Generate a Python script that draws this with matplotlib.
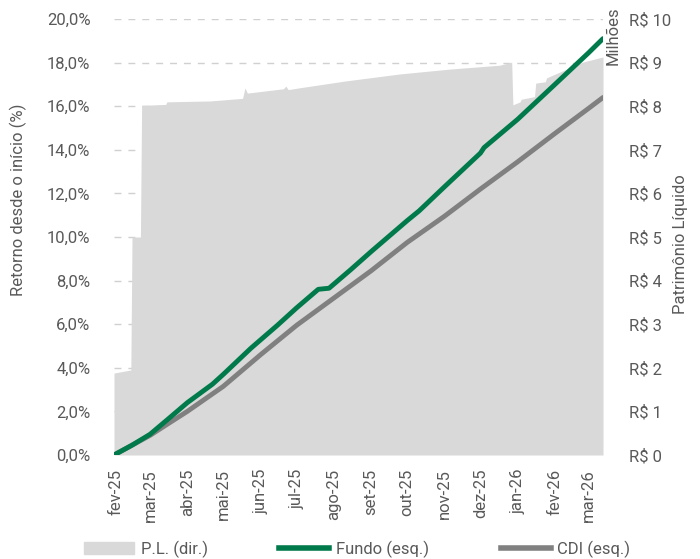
import numpy as np
import pandas as pd
import matplotlib
matplotlib.use("Agg")
import matplotlib.pyplot as plt
from matplotlib.patches import Patch
from matplotlib.lines import Line2D

plt.rcParams['font.family'] = ['Roboto', 'DejaVu Sans']

# Dados
pl_datas = ['2025-01-30', '2025-02-13', '2025-02-14', '2025-02-21', '2025-02-22',
            '2025-03-14', '2025-03-15', '2025-04-20', '2025-05-17', '2025-05-19',
            '2025-05-21', '2025-06-20', '2025-06-22', '2025-06-24', '2025-07-03',
            '2025-08-11', '2025-09-25', '2025-11-05', '2025-12-17', '2025-12-27',
            '2025-12-28', '2026-01-03', '2026-01-04', '2026-01-15', '2026-01-16',
            '2026-01-24', '2026-01-25', '2026-02-24', '2026-03-13']
pl_milhoes = [1.88, 1.95, 5.0, 5.0, 8.02,
              8.04, 8.1, 8.12, 8.18, 8.42,
              8.30, 8.40, 8.46, 8.38, 8.42,
              8.58, 8.74, 8.85, 8.94, 9.01,
              8.03, 8.10, 8.16, 8.22, 8.53,
              8.56, 8.65, 9.01, 9.13]

fundo_datas = ['2025-01-30', '2025-02-14', '2025-03-01', '2025-03-15', '2025-04-01',
               '2025-04-22', '2025-05-01', '2025-05-24', '2025-06-15', '2025-07-01',
               '2025-07-19', '2025-07-28', '2025-08-15', '2025-09-01', '2025-10-01',
               '2025-10-11', '2025-11-01', '2025-12-01', '2025-12-04', '2026-01-01',
               '2026-02-01', '2026-03-01', '2026-03-13']
fundo = [0.0, 0.45, 0.95, 1.6, 2.4,
         3.25, 3.7, 4.9, 5.95, 6.75,
         7.6, 7.65, 8.5, 9.33, 10.75,
         11.2, 12.3, 13.85, 14.1, 15.4,
         17.0, 18.45, 19.1]

cdi_datas = ['2025-01-30', '2025-02-14', '2025-03-01', '2025-03-15', '2025-04-01',
             '2025-05-01', '2025-06-01', '2025-07-01', '2025-08-01', '2025-09-01',
             '2025-10-01', '2025-11-01', '2025-12-01', '2026-01-01', '2026-02-01',
             '2026-03-01', '2026-03-13']
cdi = [0.0, 0.45, 0.9, 1.4, 2.0,
       3.15, 4.6, 5.95, 7.2, 8.45,
       9.75, 10.95, 12.2, 13.45, 14.75,
       15.9, 16.4]

meses = ['fev-25', 'mar-25', 'abr-25', 'mai-25', 'jun-25', 'jul-25', 'ago-25',
         'set-25', 'out-25', 'nov-25', 'dez-25', 'jan-26', 'fev-26', 'mar-26']
meses_datas = pd.date_range('2025-02-01', periods=len(meses), freq='MS')

cor_texto = '#595959'
cor_pl = '#d9d9d9'
cor_fundo = '#007a4a'
cor_cdi = '#808080'
fs = 12

fig = plt.figure(figsize=(7, 5.59), dpi=100)
ax = fig.add_axes([114 / 700, 104 / 559, 489 / 700, 436 / 559])
ax2 = ax.twinx()
ax.set_zorder(ax2.get_zorder() + 1)
ax.patch.set_visible(False)

# P.L. (eixo direito)
ax2.fill_between(pd.to_datetime(pl_datas), 0, pl_milhoes, color=cor_pl, lw=0)
ax2.set_ylim(0, 10)
ax2.set_yticks(range(0, 11))
ax2.set_yticklabels([f'R$ {v}' for v in range(0, 11)])
ax2.set_axisbelow(True)
ax2.grid(axis='y', color='#d0d0d0', lw=1.0, ls=(0, (5, 5)))

# Retornos (eixo esquerdo)
ax.plot(pd.to_datetime(cdi_datas), cdi, color=cor_cdi, lw=3.5, solid_capstyle='round')
ax.plot(pd.to_datetime(fundo_datas), fundo, color=cor_fundo, lw=3.5, solid_capstyle='round')
ax.set_ylim(0, 20)
ax.set_yticks(np.arange(0, 21, 2))
ax.set_yticklabels([f'{v:.1f}%'.replace('.', ',') for v in np.arange(0, 21, 2)])
ax.set_xlim(pd.Timestamp('2025-01-30'), pd.Timestamp('2026-03-13'))
ax.set_xticks(meses_datas)
ax.set_xticklabels(meses, rotation=90)

for a in (ax, ax2):
    for s in a.spines.values():
        s.set_visible(False)
    a.tick_params(length=0, colors=cor_texto, labelsize=fs)
ax.tick_params(axis='y', pad=17)
ax.tick_params(axis='x', pad=10)
ax2.tick_params(axis='y', pad=19)

ax.set_ylabel('Retorno desde o início (%)', color=cor_texto, fontsize=fs)
ax.yaxis.set_label_coords(-0.178, 0.585)
ax2.set_ylabel('Patrimônio Líquido', color=cor_texto, fontsize=fs)
ax2.yaxis.set_label_coords(1.143, 0.484)
fig.text(613 / 700, 1 - 36 / 559, 'Milhões', rotation=90, ha='center', va='center',
         color=cor_texto, fontsize=fs)

handles = [Patch(color=cor_pl, label='P.L. (dir.)'),
           Line2D([], [], color=cor_fundo, lw=4, label='Fundo (esq.)'),
           Line2D([], [], color=cor_cdi, lw=4, label='CDI (esq.)')]
leg = fig.legend(handles=handles, loc='center', bbox_to_anchor=(357 / 700, 10 / 559),
                 ncol=3, frameon=False, fontsize=fs, handlelength=3.0,
                 handletextpad=0.4, columnspacing=4.3)
for t in leg.get_texts():
    t.set_color(cor_texto)

fig.savefig('out.png', dpi=100)
